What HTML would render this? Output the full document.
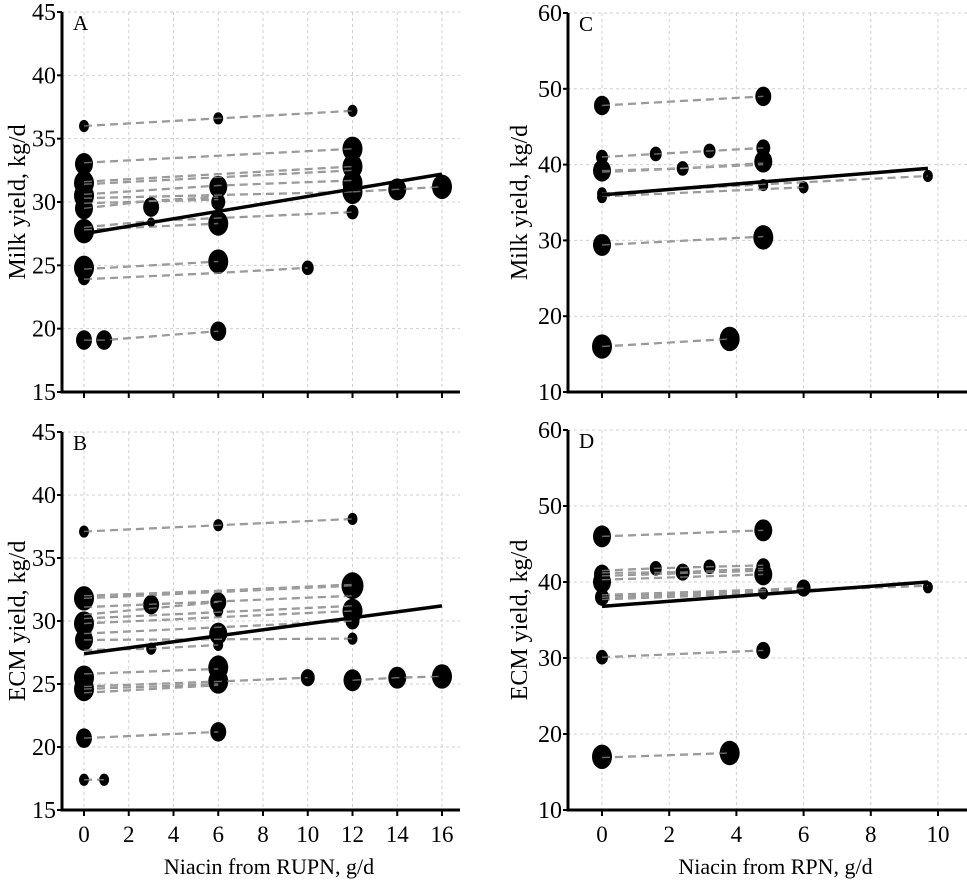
<!DOCTYPE html>
<html><head><meta charset="utf-8"><style>
body{margin:0;background:#fff}
svg{display:block;font-family:"Liberation Serif",serif}
</style></head><body>
<svg id="chart" width="967" height="881" viewBox="0 0 967 881"></svg>
<script>
// Panel A data: milk yield vs RUPN niacin
const aLines=[[[0,36.0],[6,36.6],[12,37.2]],[[0,33.1],[12,34.2]],[[0,31.6],[12,32.8]],[[0,31.4],[12,32.5]],[[0,30.6],[6,31.3],[12,31.7]],[[0,30.3],[12,30.8]],[[0,29.5],[3,30.1],[6,30.4]],[[0,29.9],[6,30.2]],[[0,28.0],[3,28.5],[12,29.2]],[[0,27.8],[6,28.3]],[[0,24.7],[6,25.3]],[[0,23.9],[6,24.4],[10,24.8]],[[0,19.1],[0.9,19.1],[6,19.8]],[[12,30.8],[14,31.0],[16,31.2]]];
const aDots=[[0,36,5],[0,33,9],[0,31.5,10],[0,30.5,10],[0,29.5,9],[0,27.7,10],[0,24.8,10],[0,24,6],[0,19.1,8],[0.9,19.1,8],[3,29.6,8],[3,28.4,4],[6,36.6,5],[6,31.2,9],[6,30,7],[6,28.3,10],[6,25.3,10],[6,19.8,8],[10,24.8,6],[12,37.2,5],[12,34.2,10],[12,32.8,10],[12,31.5,10],[12,30.8,10],[12,29.2,6],[14,31,9],[16,31.2,10]];
const aFit=[[0,27.5],[16,32.2]];
// Panel B data: ECM yield vs RUPN niacin
const bLines=[[[0,37.1],[6,37.6],[12,38.1]],[[0,32.0],[6,32.4],[12,32.9]],[[0,31.8],[12,32.8]],[[0,31.1],[12,32.0]],[[0,30.5],[6,31.5]],[[0,30.2],[12,31.2]],[[0,29.8],[12,30.8]],[[0,29.0],[6,29.5],[12,30.0]],[[0,28.5],[12,28.6]],[[0,27.7],[3,27.8],[6,28.1]],[[0,25.8],[6,26.2]],[[0,24.8],[6,25.2],[10,25.5]],[[0,24.6],[6,25.0]],[[0,24.3],[6,24.9]],[[12,25.3],[14,25.5],[16,25.6]],[[0,20.7],[6,21.2]],[[0,17.4],[0.9,17.4]]];
const bDots=[[0,37.1,5],[0,31.8,10],[0,29.8,10],[0,28.5,9],[0,25.5,10],[0,24.6,10],[0,20.7,8],[0,17.4,5],[0.9,17.4,5],[3,31.3,8],[3,27.8,5],[6,37.6,5],[6,31.5,8],[6,30.8,5],[6,29,9],[6,28.1,5],[6,26.3,10],[6,25.2,10],[6,21.2,8],[10,25.5,7],[12,38.1,5],[12,32.8,11],[12,30.8,10],[12,30,7],[12,28.6,5],[12,25.3,9],[14,25.5,9],[16,25.6,10]];
const bFit=[[0,27.4],[16,31.2]];
// Panel C data: milk yield vs RPN niacin
const cLines=[[[0,47.8],[4.8,49]],[[0,41],[1.6,41.4],[3.2,41.8],[4.8,42.2]],[[0,39.2],[2.4,39.5],[4.8,40.2]],[[0,39],[4.8,40]],[[0,36.2],[4.8,37.4],[9.7,38.5]],[[0,35.8],[6,37]],[[0,29.4],[4.8,30.5]],[[0,16],[3.8,17]]];
const cDots=[[0,47.8,8],[0,41,6],[0,39.2,9],[0,36.2,5],[0,35.7,5],[0,29.4,9],[0,16,10],[1.6,41.4,6],[2.4,39.5,6],[3.2,41.8,6],[3.8,17,10],[4.8,49,8],[4.8,42.2,7],[4.8,40.4,9],[4.8,37.3,5],[4.8,30.4,10],[6,37,5],[9.7,38.5,5]];
const cFit=[[0,36],[9.7,39.5]];
// Panel D data: ECM yield vs RPN niacin
const dLines=[[[0,46],[4.8,46.8]],[[0,41.5],[1.6,41.8],[3.2,42],[4.8,42.2]],[[0,41.2],[2.4,41.3],[4.8,41.8]],[[0,40.8],[4.8,41.5]],[[0,40.3],[4.8,41]],[[0,38.3],[4.8,39],[6,39.2]],[[0,38],[9.7,39.5]],[[0,37.7],[4.8,38.5]],[[0,30.1],[4.8,31]],[[0,16.9],[3.8,17.5]]];
const dDots=[[0,46,9],[0,41,8],[0,40,9],[0,38,7],[0,30.1,6],[0,17,10],[1.6,41.8,6],[2.4,41.3,7],[3.2,42,6],[3.8,17.5,10],[4.8,46.8,9],[4.8,42,7],[4.8,41,9],[4.8,38.5,5],[4.8,31,7],[6,39.2,7],[9.7,39.3,5]];
const dFit=[[0,36.8],[9.7,40]];
const rupnTicks=[0,2,4,6,8,10,12,14,16];
const rpnTicks=[0,2,4,6,8,10];
const abYTicks=[15,20,25,30,35,40,45];
const cdYTicks=[10,20,30,40,50,60];

const svg=document.getElementById('chart');
const NS='http://www.w3.org/2000/svg';
function mk(tag,at,parent){const e=document.createElementNS(NS,tag);for(const k in at)e.setAttribute(k,at[k]);(parent||svg).appendChild(e);return e;}

function panel(p){
  const g=mk('g',{});
  
  
  const xs=v=>p.x0+(v-p.xmin)*(p.x1-p.x0)/(p.xmax-p.xmin);
  const ys=v=>p.yb-(v-p.ymin)*(p.yb-p.yt)/(p.ymax-p.ymin);
  p.xt.forEach(v=>{const l=mk('line',{x1:xs(v),x2:xs(v),y1:p.yt,y2:p.yb,stroke:'#cfcfcf','stroke-width':1,'stroke-dasharray':'3,3'},g);
    
    const t=mk('line',{x1:xs(v),x2:xs(v),y1:p.yb,y2:p.yb+6,stroke:'#000','stroke-width':2},g);
    
    if(p.xlabels){const tx=mk('text',{x:xs(v),y:p.yb+32,'text-anchor':'middle','font-size':23},g);tx.textContent=v;
      }
  });
  p.ytk.forEach(v=>{
    if(v!==p.ymin){const l=mk('line',{x1:p.ax,x2:p.xr,y1:ys(v),y2:ys(v),stroke:'#cfcfcf','stroke-width':1,'stroke-dasharray':'3,3'},g);
      }
    const t=mk('line',{x1:p.ax-5,x2:p.ax,y1:ys(v),y2:ys(v),stroke:'#000','stroke-width':2},g);
    
    const tx=mk('text',{x:p.ax-6,y:ys(v)+8,'text-anchor':'end','font-size':24},g);tx.textContent=v;
    
  });
  p.lines.forEach(s=>{const pl=mk('polyline',{points:s.map(q=>xs(q[0])+','+ys(q[1])).join(' '),fill:'none',stroke:'#8a8a8a','stroke-width':2.2,'stroke-dasharray':'8,5'},g);
    });
  p.dots.forEach(d=>{const e=mk('ellipse',{cx:xs(d[0]),cy:ys(d[1]),rx:d[2]*1.0,ry:d[2]*1.22,fill:'#000'},g);
    });
  p.lines.forEach(s=>{const pl=mk('polyline',{points:s.map(q=>xs(q[0])+','+ys(q[1])).join(' '),fill:'none',stroke:'#aaa','stroke-width':1.5,'stroke-dasharray':'8,5','stroke-opacity':0.6},g);
    });
  const f=mk('line',{x1:xs(p.fit[0][0]),y1:ys(p.fit[0][1]),x2:xs(p.fit[1][0]),y2:ys(p.fit[1][1]),stroke:'#000','stroke-width':3.5},g);
  
  const ya=mk('line',{x1:p.ax,x2:p.ax,y1:p.yt,y2:p.yb+1.5,stroke:'#000','stroke-width':3},g);
  
  const xa=mk('line',{x1:p.ax,x2:p.xr,y1:p.yb,y2:p.yb,stroke:'#000','stroke-width':3},g);
  
  const lt=mk('text',{x:p.ax+11,y:p.yt+18,'font-size':21},g);lt.textContent=p.id;
  
  const cy=(p.yt+p.yb)/2;
  const yt=mk('text',{x:p.ytx,y:cy,'font-size':24,'text-anchor':'middle',transform:'rotate(-90 '+p.ytx+' '+cy+')'},g);yt.textContent=p.ytitle;
  
  if(p.xtitle){const xt=mk('text',{x:(p.ax+p.xr)/2+8,y:p.yb+64,'font-size':22,'text-anchor':'middle'},g);xt.textContent=p.xtitle;
    }
}
panel({id:'A',ax:62,xr:460,x0:84,x1:442,xmin:0,xmax:16,yt:12,yb:392,ymin:15,ymax:45,xt:rupnTicks,ytk:abYTicks,lines:aLines,dots:aDots,fit:aFit,ytitle:'Milk yield, kg/d',ytx:25});
panel({id:'B',ax:62,xr:460,x0:84,x1:442,xmin:0,xmax:16,yt:432,yb:810,ymin:15,ymax:45,xt:rupnTicks,ytk:abYTicks,lines:bLines,dots:bDots,fit:bFit,ytitle:'ECM yield, kg/d',ytx:25,xlabels:true,xtitle:'Niacin from RUPN, g/d'});
panel({id:'C',ax:568,xr:967,x0:602,x1:938,xmin:0,xmax:10,yt:13,yb:392,ymin:10,ymax:60,xt:rpnTicks,ytk:cdYTicks,lines:cLines,dots:cDots,fit:cFit,ytitle:'Milk yield, kg/d',ytx:527});
panel({id:'D',ax:568,xr:967,x0:602,x1:938,xmin:0,xmax:10,yt:430,yb:810,ymin:10,ymax:60,xt:rpnTicks,ytk:cdYTicks,lines:dLines,dots:dDots,fit:dFit,ytitle:'ECM yield, kg/d',ytx:527,xlabels:true,xtitle:'Niacin from RPN, g/d'});
</script>
</body></html>
